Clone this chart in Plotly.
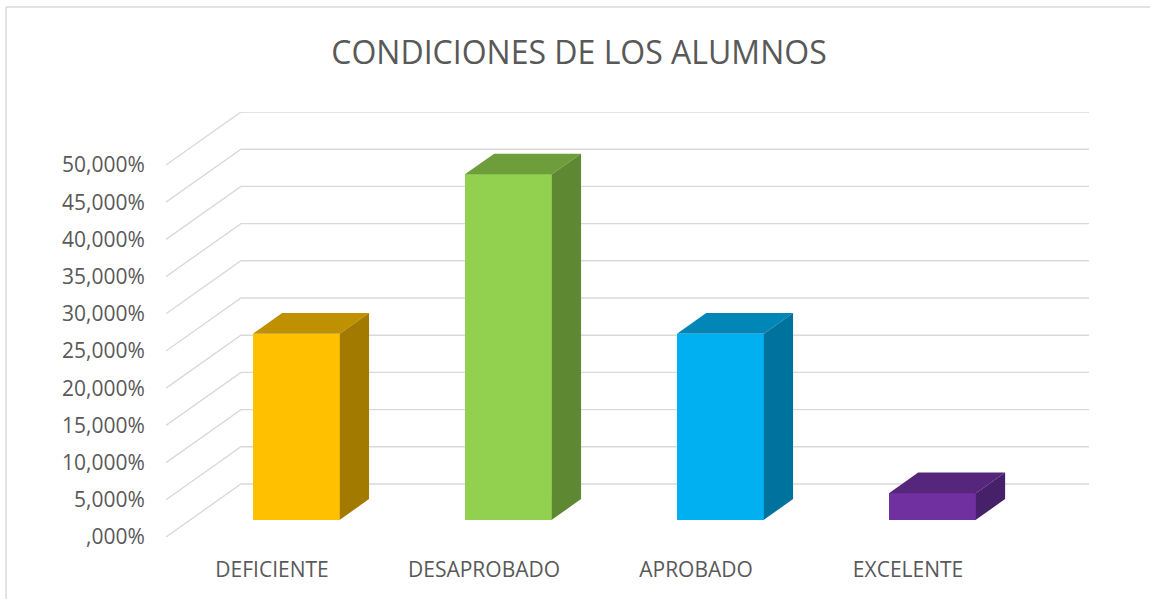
import plotly.graph_objects as go

# ---- data ----
categories = ["DEFICIENTE", "DESAPROBADO", "APROBADO", "EXCELENTE"]
values = [25.0, 46.43, 25.0, 3.57]  # percent
tick_vals = [0, 5, 10, 15, 20, 25, 30, 35, 40, 45, 50]
tick_text = [",000%", "5,000%", "10,000%", "15,000%", "20,000%", "25,000%",
             "30,000%", "35,000%", "40,000%", "45,000%", "50,000%"]
front_colors = ["#FFC000", "#92D050", "#00B0F0", "#7030A0"]
top_colors = ["#BF9000", "#6E9E3C", "#0087B8", "#55267B"]
side_colors = ["#A37A00", "#5E8932", "#00729E", "#47206A"]

# ---- pseudo-3D geometry (oblique projection, in axis units) ----
W, H = 1150, 599
L_PX, R_PX, T_PX, B_PX = 166, 1089.5, 112, 537
x_unit = 212.2          # px per category
y_unit = 7.44           # px per percent
wall_dx = 75 / x_unit   # depth offset of back wall
wall_dy = 53 / y_unit
bar_front = 0.325       # depth fraction of bar front face
bar_depth = 0.39        # depth fraction of bar thickness
bar_w = 0.41

n = len(categories)
x_min, x_max = -0.5, n - 0.5 + wall_dx
y_max = (B_PX - T_PX) / y_unit

fig = go.Figure()

# back-wall gridlines (as shapes under traces)
shapes = []
for v in tick_vals:
    path = (f"M {x_min},{v} L {x_min + wall_dx},{v + wall_dy} "
            f"L {n - 0.5 + wall_dx},{v + wall_dy}")
    shapes.append(dict(type="path", path=path, xref="x", yref="y",
                       line=dict(color="#D9D9D9", width=1.4), layer="below"))

# border of chart area
shapes.append(dict(type="line", xref="paper", yref="paper",
                   x0=(6 - L_PX) / (R_PX - L_PX), x1=(6 - L_PX) / (R_PX - L_PX),
                   y0=(B_PX - 7) / (B_PX - T_PX), y1=(B_PX - 640) / (B_PX - T_PX),
                   line=dict(color="#D9D9D9", width=1.5)))
shapes.append(dict(type="line", xref="paper", yref="paper",
                   x0=(6 - L_PX) / (R_PX - L_PX), x1=(1200 - L_PX) / (R_PX - L_PX),
                   y0=(B_PX - 7) / (B_PX - T_PX), y1=(B_PX - 7) / (B_PX - T_PX),
                   line=dict(color="#D9D9D9", width=1.5)))

fdx, fdy = bar_front * wall_dx, bar_front * wall_dy
bdx, bdy = bar_depth * wall_dx, bar_depth * wall_dy
xc = [i + fdx for i in range(n)]

# front faces
fig.add_trace(go.Bar(x=xc, y=values, base=[fdy] * n, width=bar_w,
                     marker=dict(color=front_colors, line=dict(width=0)),
                     hoverinfo="skip", showlegend=False))

# top and side faces
for i, v in enumerate(values):
    xl, xr = xc[i] - bar_w / 2, xc[i] + bar_w / 2
    yb, yt = fdy, fdy + v
    fig.add_trace(go.Scatter(
        x=[xl, xr, xr + bdx, xl + bdx, xl],
        y=[yt, yt, yt + bdy, yt + bdy, yt],
        fill="toself", fillcolor=top_colors[i], mode="lines",
        line=dict(width=0, color=top_colors[i]), hoverinfo="skip", showlegend=False))
    fig.add_trace(go.Scatter(
        x=[xr, xr + bdx, xr + bdx, xr, xr],
        y=[yb, yb + bdy, yt + bdy, yt, yb],
        fill="toself", fillcolor=side_colors[i], mode="lines",
        line=dict(width=0, color=side_colors[i]), hoverinfo="skip", showlegend=False))

font_family = "Open Sans, Noto Sans, sans-serif"
fig.update_layout(
    width=W, height=H,
    margin=dict(l=L_PX, r=W - R_PX, t=T_PX, b=H - B_PX, autoexpand=False),
    paper_bgcolor="white", plot_bgcolor="white",
    title=dict(text="CONDICIONES DE LOS ALUMNOS", x=(579) / W, xanchor="center",
               y=1 - 53 / H, yanchor="middle", yref="container",
               font=dict(family=font_family, size=32, color="#595959")),
    shapes=shapes,
    bargap=0,
)
fig.update_xaxes(range=[x_min, x_max], tickvals=list(range(n)), ticktext=categories,
                 showgrid=False, zeroline=False, showline=False,
                 ticks="outside", ticklen=14, tickcolor="rgba(0,0,0,0)",
                 tickfont=dict(family=font_family, size=21, color="#595959"),
                 fixedrange=True)
fig.update_yaxes(range=[0, y_max], tickvals=tick_vals, ticktext=tick_text,
                 showgrid=False, zeroline=False, showline=False,
                 ticks="outside", ticklen=16, tickcolor="rgba(0,0,0,0)",
                 tickfont=dict(family=font_family, size=21, color="#595959"),
                 fixedrange=True)

fig.write_html("out.html", config={"displayModeBar": False})
